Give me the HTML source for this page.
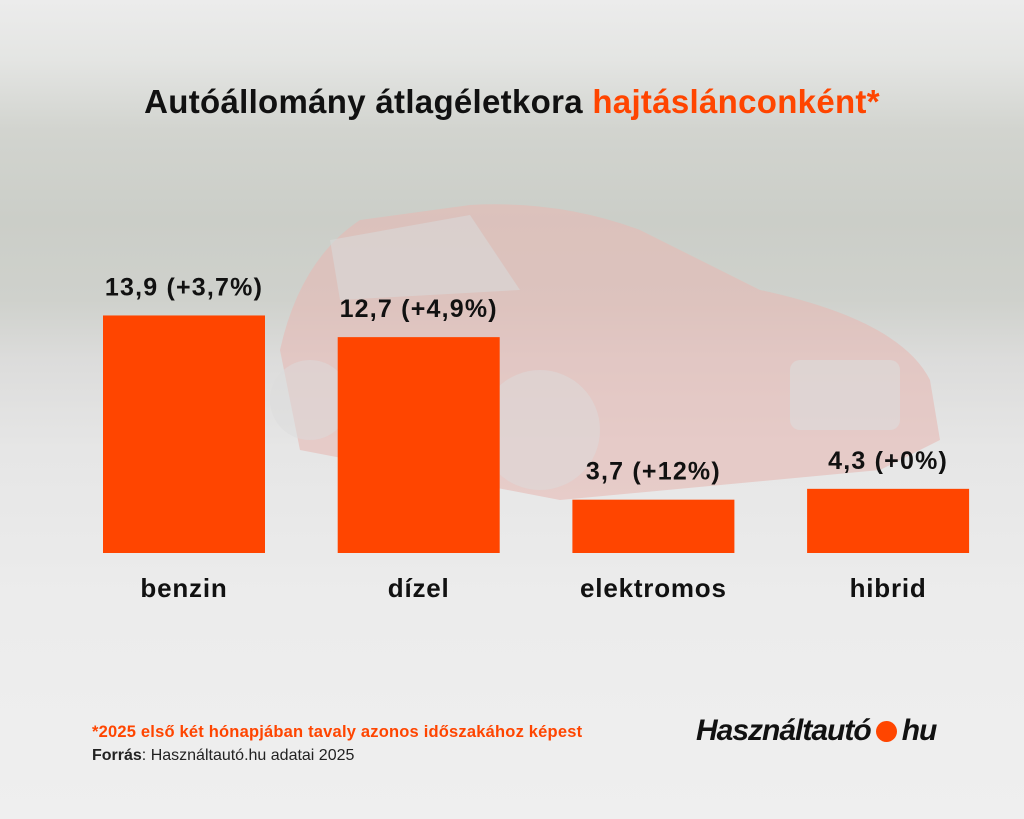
<!DOCTYPE html>
<html><head><meta charset="utf-8"><style>
html,body{margin:0;padding:0}
body{width:1024px;height:819px;overflow:hidden;position:relative;font-family:"Liberation Sans",sans-serif;
background:linear-gradient(180deg,#ececec 0px,#e4e5e3 60px,#d2d4cf 130px,#cbcec8 220px,#cfd1cc 300px,#dcdcdb 360px,#e6e6e6 450px,#ececec 600px,#efefef 819px);}
.t{position:absolute;white-space:nowrap;font-weight:bold}
</style></head><body>
<svg width="1024" height="819" style="position:absolute;left:0;top:0">
 <path d="M280,350 Q300,260 360,220 L470,205 Q560,200 640,230 L760,290 Q900,320 930,380 L940,440 L880,470 L560,500 L300,450 Z" fill="#e6b9b4" opacity="0.6"/>
 <path d="M330,240 L470,215 L520,290 L340,300 Z" fill="#d8d8d8" opacity="0.6"/>
 <rect x="790" y="360" width="110" height="70" rx="10" fill="#dcdcdc" opacity="0.6"/>
 <circle cx="540" cy="430" r="60" fill="#dcdcdc" opacity="0.5"/>
 <circle cx="310" cy="400" r="40" fill="#dcdcdc" opacity="0.5"/>
</svg>
<div class="t" style="left:0;width:1024px;text-align:center;top:83px;font-size:33px;color:#111;letter-spacing:0.3px">Autóállomány átlagéletkora <span style="color:#ff4500">hajtáslánconként*</span></div>
<svg id="chart" width="1024" height="819" style="position:absolute;left:0;top:0"></svg>
<div class="t" style="left:92px;top:723px;font-size:16.5px;color:#ff4500;letter-spacing:0.2px">*2025 első két hónapjában tavaly azonos időszakához képest</div>
<div class="t" style="left:92px;top:747px;font-size:16px;color:#222;font-weight:normal"><b>Forrás</b>: Használtautó.hu adatai 2025</div>
<div class="t" style="left:696px;top:714px;font-size:30px;font-style:italic;color:#111;letter-spacing:-1px">Használtautó<span style="display:inline-block;width:21px;height:21px;border-radius:50%;background:#ff4500;margin:0 5px;vertical-align:-2px"></span>hu</div>
<script>
const categories=["benzin","dízel","elektromos","hibrid"];
const values=[13.9,12.7,3.7,4.3];
const labels=["13,9 (+3,7%)","12,7 (+4,9%)","3,7 (+12%)","4,3 (+0%)"];
const svg=document.getElementById('chart');
const NS="http://www.w3.org/2000/svg";
const base=553;
function y(v){return base-(v*18.06-13.5);}
function x(i){return 103+i*234.7;}
const bw=162;
categories.forEach((c,i)=>{
 const r=document.createElementNS(NS,'rect');
 r.setAttribute('x',x(i));r.setAttribute('y',y(values[i]));r.setAttribute('width',bw);r.setAttribute('height',base-y(values[i]));r.setAttribute('fill','#ff4500');
 
 
 svg.appendChild(r);
 const t=document.createElementNS(NS,'text');
 t.setAttribute('x',x(i)+bw/2);t.setAttribute('y',y(values[i])-20);t.setAttribute('text-anchor','middle');
 t.setAttribute('font-size','25');t.setAttribute('font-weight','bold');t.setAttribute('fill','#111');t.setAttribute('font-family','Liberation Sans, sans-serif');t.setAttribute('letter-spacing','1.2');
 t.textContent=labels[i];
 
 
 svg.appendChild(t);
 const l=document.createElementNS(NS,'text');
 l.setAttribute('x',x(i)+bw/2);l.setAttribute('y',597);l.setAttribute('text-anchor','middle');
 l.setAttribute('font-size','26');l.setAttribute('font-weight','bold');l.setAttribute('fill','#111');l.setAttribute('font-family','Liberation Sans, sans-serif');l.setAttribute('letter-spacing','0.8');
 l.textContent=c;
 
 
 svg.appendChild(l);
});
</script>
</body></html>
